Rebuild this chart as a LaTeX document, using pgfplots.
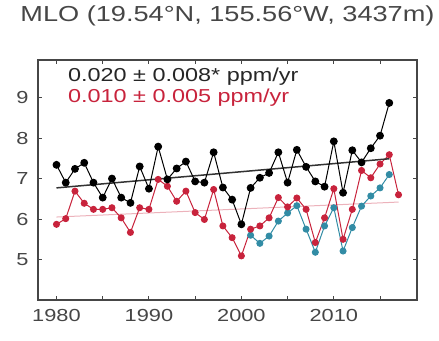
\documentclass[border=0pt]{standalone}
\usepackage{pgfplots}
\pgfplotsset{compat=1.18}
\usepackage{fontspec}
\setmainfont{Liberation Sans}[FakeStretch=1.25]
\definecolor{mred}{RGB}{200,35,60}
\definecolor{mteal}{RGB}{50,140,165}
\definecolor{axgray}{RGB}{70,70,70}
\begin{document}
\begin{tikzpicture}[x=1bp,y=1bp]
\useasboundingbox (0,0) rectangle (439,340);
\begin{axis}[
  at={(38bp,40bp)}, anchor=south west,
  scale only axis, width=379bp, height=240bp,
  xmin=1978, xmax=2019, ymin=4, ymax=9.93,
  xtick={1980,1990,2000,2010}, minor xtick={1985,1995,2005,2015},
  ytick={5,6,7,8,9},
  tick align=inside, tick pos=both,
  major tick length=4bp, minor tick length=4bp,
  axis line style={axgray, line width=1.6bp},
  every tick/.style={axgray, line width=1bp},
  every minor tick/.style={axgray, line width=1bp},
  /pgf/number format/assume math mode=true,
  /pgf/number format/1000 sep={},
  ticklabel style={font=\fontsize{17.5}{17.5}\selectfont, text=axgray},
  xticklabel style={yshift=-6bp},
  yticklabel style={xshift=-6bp},
  title={MLO (19.54°N, 155.56°W, 3437m)},
  title style={font=\fontsize{21.8}{21.8}\selectfont, text=axgray, at={(0.5,1)}, anchor=base, yshift=33bp},
]
% red trend
\addplot[mred!35, line width=1bp] coordinates {(1980,6.05) (2017,6.42)};
% teal
\addplot[mteal, line width=1bp, mark=*, mark size=3bp, mark options={fill=mteal}] coordinates {
(2001,5.60) (2002,5.40) (2003,5.58) (2004,5.95) (2005,6.15) (2006,6.33) (2007,5.75)
(2008,5.18) (2009,5.83) (2010,6.28) (2011,5.21) (2012,5.79) (2013,6.32) (2014,6.57)
(2015,6.77) (2016,7.10)};
% red
\addplot[mred, line width=1bp, mark=*, mark size=3bp, mark options={fill=mred}] coordinates {
(1980,5.87) (1981,6.01) (1982,6.69) (1983,6.39) (1984,6.24) (1985,6.24) (1986,6.28)
(1987,6.03) (1988,5.67) (1989,6.28) (1990,6.24) (1991,6.98) (1992,6.81) (1993,6.44)
(1994,6.69) (1995,6.16) (1996,5.99) (1997,6.73) (1998,5.83) (1999,5.54) (2000,5.09)
(2001,5.75) (2002,5.83) (2003,6.03) (2004,6.53) (2005,6.30) (2006,6.52) (2007,6.24)
(2008,5.42) (2009,6.03) (2010,6.75) (2011,5.50) (2012,6.24) (2013,7.20) (2014,7.02)
(2015,7.36) (2016,7.59) (2017,6.60)};
% black trend
\addplot[black!80, line width=1.5bp] coordinates {(1980,6.77) (2016,7.49)};
% black
\addplot[black, line width=1bp, mark=*, mark size=3.4bp, mark options={fill=black}] coordinates {
(1980,7.34) (1981,6.90) (1982,7.24) (1983,7.39) (1984,6.90) (1985,6.53) (1986,7.00)
(1987,6.53) (1988,6.40) (1989,7.30) (1990,6.75) (1991,7.79) (1992,6.98) (1993,7.25)
(1994,7.42) (1995,6.93) (1996,6.90) (1997,7.65) (1998,6.78) (1999,6.48) (2000,5.87)
(2001,6.77) (2002,7.02) (2003,7.14) (2004,7.65) (2005,6.90) (2006,7.71) (2007,7.29)
(2008,6.93) (2009,6.80) (2010,7.92) (2011,6.65) (2012,7.70) (2013,7.40) (2014,7.75)
(2015,8.06) (2016,8.87)};
\node[anchor=west, inner sep=0pt, font=\fontsize{18.8}{18.8}\selectfont, text=black!85] at (axis description cs:0.079,0.929) {0.020 ± 0.008* ppm/yr};
\node[anchor=west, inner sep=0pt, font=\fontsize{18.8}{18.8}\selectfont, text=mred] at (axis description cs:0.079,0.842) {0.010 ± 0.005 ppm/yr};
\end{axis}
\end{tikzpicture}
\end{document}
